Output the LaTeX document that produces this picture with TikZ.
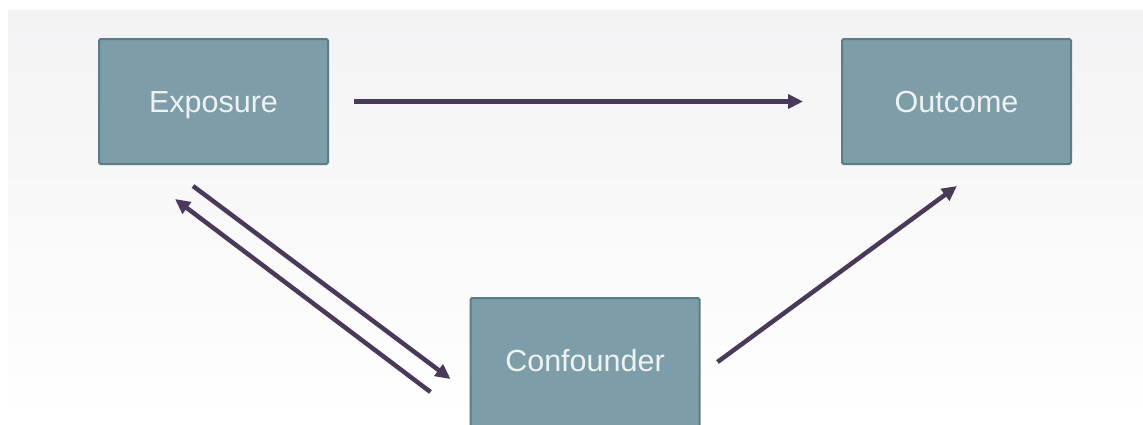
\documentclass[tikz,border=0pt]{standalone}
\usepackage{fontspec}
\setmainfont{Liberation Sans}
\usetikzlibrary{arrows.meta,calc}
\definecolor{boxfill}{HTML}{7D9EA8}
\definecolor{boxline}{HTML}{5D7C85}
\definecolor{arrowc}{HTML}{4A3A5A}
\definecolor{bgtop}{HTML}{F3F2F4}
\definecolor{txt}{HTML}{EEF2F3}
\begin{document}
\begin{tikzpicture}[x=1pt,y=-1pt,
  box/.style={draw=boxline, line width=2pt, fill=boxfill, rounded corners=1.5pt,
    minimum width=229pt, inner sep=0pt, text=txt, text height=22pt, text depth=1pt,
    font=\fontsize{30.5}{36}\selectfont},
  conn/.style={draw=arrowc, line width=4.5pt, -{Triangle[length=15pt,width=14pt]}}]
\useasboundingbox (0,0) rectangle (1143,424);
\fill[white] (0,0) rectangle (1143,424);
\shade[top color=bgtop, bottom color=white] (8,10) rectangle (1143,424);
\begin{scope}
\clip (0,0) rectangle (1143,424);
\node[box, minimum height=125pt] (exp) at (213.5,101.5) {Exposure};
\node[box, minimum height=125pt] (out) at (956.5,101.5) {Outcome};
\node[box, minimum height=132pt, text depth=8pt] (conf) at (585,364) {Confounder};
\end{scope}
\draw[conn, shorten <=25pt, shorten >=38pt] (exp) -- (out);
\draw[conn] ($(exp.south)+(-20.5,21)$) -- ($(conf.west)+(-19,15)$);
\draw[conn] ($(conf.west)+(-39,28)$) -- ($(exp.south)+(-38.5,34)$);
\draw[conn] ($(conf.east)+(17,-2)$) -- ($(out.south)+(0.5,21)$);
\end{tikzpicture}
\end{document}
